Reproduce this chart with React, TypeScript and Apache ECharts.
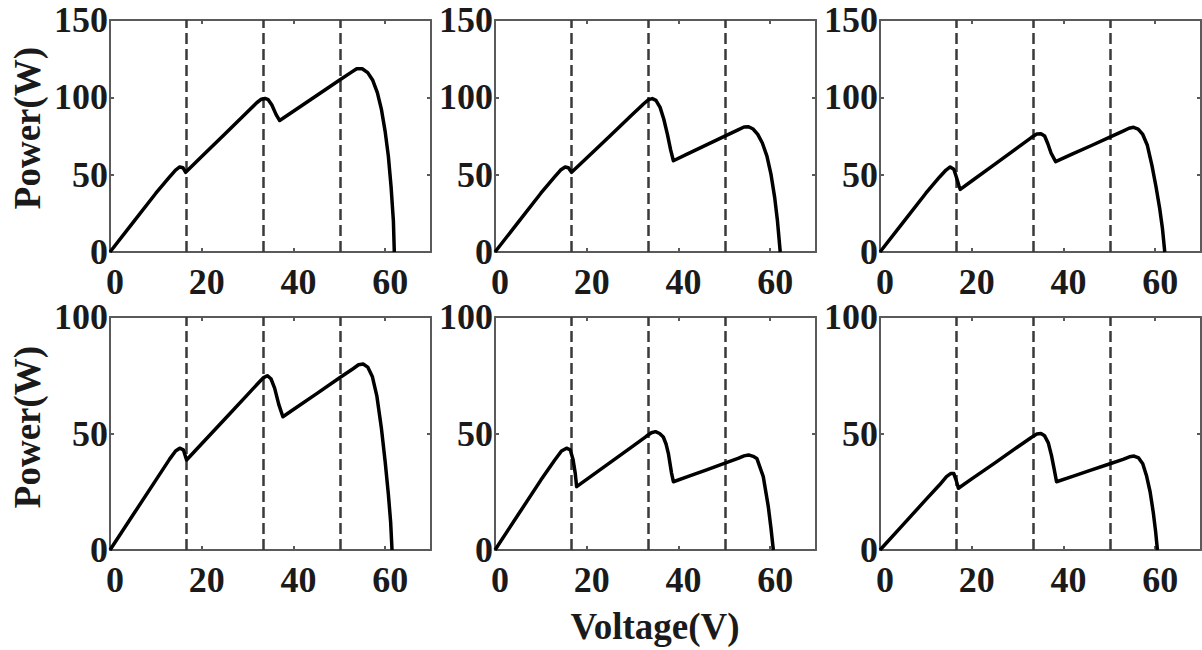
import { useEffect, useRef } from "react";
import * as echarts from "echarts";

// ---- data ----
const X_MAX = 70;
const X_INTERVAL = 20;
const Y_INTERVAL = 50;
const Y_MAX_TOP = 150;
const Y_MAX_BOTTOM = 100;
const DASH_X = [16.7, 33.5, 50.3];

const V1 = [0, 5, 10, 13, 14.3, 15.2, 15.9, 16.5, 20, 25, 30, 32, 33, 33.8, 34.5, 35.3, 36.2, 37, 40, 45, 50, 52.5, 53.8, 55, 56.2, 57.3, 58.3, 59.2, 60, 60.7, 61.3, 61.8, 62];
const P1 = [0, 19, 38, 48.5, 53, 55, 54.5, 51.5, 61.7, 76.2, 90.7, 96.5, 98.8, 99.3, 98.5, 95, 89, 85, 91, 101, 111, 116, 118.5, 118.5, 116, 111, 103, 92, 78, 62, 42, 20, 0];

const V2 = [0, 5, 10, 13, 14.3, 15.3, 16, 16.7, 20, 25, 30, 32.5, 33.5, 34.3, 35.1, 36, 36.8, 37.6, 38.3, 38.9, 42, 46, 50, 53, 54.3, 55.3, 56.3, 57.3, 58.3, 59.3, 60.2, 61, 61.6, 62.2];
const P2 = [0, 19, 38, 48.5, 53, 55, 54.5, 51.5, 60.8, 74.9, 89, 96, 98.5, 99.2, 98, 93.5, 86, 76, 66, 59, 63.4, 69.1, 74.8, 79, 80.8, 81, 79.5, 76, 70.5, 62, 50, 35, 20, 0];

const V3 = [0, 5, 10, 13, 14.4, 15.3, 16.1, 16.7, 17.2, 17.5, 20, 25, 30, 33, 34.2, 35.1, 35.9, 36.6, 37.3, 38.3, 42, 46, 50, 53, 54.3, 55.3, 56.3, 57.3, 58.3, 59.3, 60.2, 61, 61.6, 62.1];
const P3 = [0, 19, 38, 48.5, 53, 55, 53.5, 48, 43, 40.5, 45.9, 56.7, 67.5, 74, 76.3, 76.5, 75, 70, 64, 58.4, 63.4, 68.7, 74.1, 78.2, 80, 80.6, 79.5, 76, 69, 56, 42, 28, 15, 0];

const V4 = [0, 5, 10, 13, 14.3, 15.2, 16, 16.7, 20, 25, 30, 32.5, 33.5, 34.3, 35.1, 35.9, 36.8, 37.7, 40, 45, 50, 53, 54.2, 55.2, 56.2, 57.2, 58.2, 59.2, 60, 60.7, 61.2, 61.5];
const P4 = [0, 15, 30, 39, 42.5, 43.7, 43, 38.6, 45.6, 56.1, 66.7, 72, 74, 74.8, 73.5, 69.5, 62.5, 57.2, 60.3, 67, 73.8, 77.8, 79.5, 79.8, 78.5, 74.5, 66, 52, 38, 24, 12, 0];

const V5 = [0, 5, 10, 13, 14.5, 15.6, 16.4, 17, 17.5, 17.8, 20, 25, 30, 33, 34.1, 35, 35.9, 36.7, 37.3, 37.8, 38.5, 38.9, 42, 46, 50, 53, 54.3, 55.3, 56.3, 57.1, 58.5, 59.6, 60.2, 60.7];
const P5 = [0, 15, 30, 38.5, 42.5, 43.7, 43, 39, 32.9, 27.2, 30.3, 37.4, 44.5, 48.8, 50.3, 50.8, 50, 48.5, 45.5, 41.5, 33, 29.3, 31.5, 34.3, 37.2, 39.3, 40.4, 40.8, 40.2, 39.3, 31.5, 18.6, 9, 0];

const V6 = [0, 5, 10, 13, 14.5, 15.4, 16.1, 16.6, 17.1, 20, 25, 30, 33, 34.2, 35.1, 35.9, 36.7, 37.4, 38, 38.5, 42, 46, 50, 53, 54.4, 55.4, 56.4, 57.3, 58.1, 58.9, 59.6, 60.1, 60.5];
const P6 = [0, 10.8, 21.6, 28, 31.5, 32.8, 32.8, 30, 26.5, 30.5, 37.3, 44.2, 48.3, 49.8, 50, 49, 46, 40.5, 34.5, 29.3, 31.6, 34.3, 36.9, 38.9, 40, 40.3, 39.5, 37, 32, 25, 16, 8, 0];

const X_NAME = "Voltage(V)";
const Y_NAME = "Power(W)";

// ---- layout ----
const LEFTS = [110, 495, 880];
const TOPS = [20, 317];
const HEIGHTS = [232, 233];
const GRID_W = 321;

const FONT = "Liberation Serif";
const AXIS_COLOR = "#5a5a5a";
const TEXT_COLOR = "#1a1a1a";

export default function App() {
  const ref = useRef<HTMLDivElement>(null);

  useEffect(() => {
    if (!ref.current) return;
    const chart = echarts.init(ref.current, undefined, { renderer: "svg" });

    const panels = [
      { v: V1, p: P1, yMax: Y_MAX_TOP },
      { v: V2, p: P2, yMax: Y_MAX_TOP },
      { v: V3, p: P3, yMax: Y_MAX_TOP },
      { v: V4, p: P4, yMax: Y_MAX_BOTTOM },
      { v: V5, p: P5, yMax: Y_MAX_BOTTOM },
      { v: V6, p: P6, yMax: Y_MAX_BOTTOM },
    ];

    const grids: any[] = [];
    const xAxes: any[] = [];
    const yAxes: any[] = [];
    const series: any[] = [];

    const lineStyle = { color: AXIS_COLOR, width: 2 };
    const labelStyle = {
      fontFamily: FONT,
      fontWeight: "bold",
      fontSize: 36,
      color: TEXT_COLOR,
    };

    panels.forEach((pn, i) => {
      const row = Math.floor(i / 3);
      const col = i % 3;
      grids.push({
        left: LEFTS[col],
        top: TOPS[row],
        width: GRID_W,
        height: HEIGHTS[row],
        containLabel: false,
      });
      ["bottom", "top"].forEach((pos) => {
        xAxes.push({
          type: "value",
          gridIndex: i,
          position: pos,
          min: 0,
          max: X_MAX,
          interval: X_INTERVAL,
          axisLine: { show: true, onZero: false, lineStyle },
          axisTick: { show: true, inside: true, length: 4, lineStyle },
          axisLabel: {
            show: pos === "bottom",
            showMaxLabel: false,
            margin: 12,
            padding: [0, 0, 0, 10],
            ...labelStyle,
          },
          splitLine: { show: false },
        });
      });
      ["left", "right"].forEach((pos) => {
        yAxes.push({
          type: "value",
          gridIndex: i,
          position: pos,
          min: 0,
          max: pn.yMax,
          interval: Y_INTERVAL,
          axisLine: { show: true, onZero: false, lineStyle },
          axisTick: { show: true, inside: true, length: 4, lineStyle },
          axisLabel: {
            show: pos === "left",
            margin: 2,
            ...labelStyle,
          },
          splitLine: { show: false },
        });
      });
      series.push({
        type: "line",
        xAxisIndex: i * 2,
        yAxisIndex: i * 2,
        data: pn.v.map((v, k) => [v, pn.p[k]]),
        showSymbol: false,
        symbol: "none",
        smooth: false,
        lineStyle: { color: "#000", width: 3.5, join: "round" },
        z: 3,
        markLine: {
          silent: true,
          symbol: ["none", "none"],
          label: { show: false },
          lineStyle: { type: [11, 5], color: "#3a3a3a", width: 2.5 },
          data: DASH_X.map((x) => ({ xAxis: x })),
          z: 2,
        },
      });
    });

    const nameStyle = {
      fontFamily: FONT,
      fontWeight: "bold",
      fontSize: 37,
      fill: TEXT_COLOR,
      textAlign: "center",
      textVerticalAlign: "middle",
    };

    chart.setOption({
      animation: false,
      backgroundColor: "#fff",
      grid: grids,
      xAxis: xAxes,
      yAxis: yAxes,
      series,
      graphic: [
        { type: "text", x: 27, y: 128, rotation: Math.PI / 2, style: { text: Y_NAME, ...nameStyle } },
        { type: "text", x: 27, y: 427, rotation: Math.PI / 2, style: { text: Y_NAME, ...nameStyle } },
        { type: "text", x: 655, y: 626, style: { text: X_NAME, ...nameStyle } },
      ],
    });

    return () => chart.dispose();
  }, []);

  return (
    <div
      ref={ref}
      style={{ position: "absolute", left: 0, top: 0, width: 1202, height: 650 }}
    />
  );
}
